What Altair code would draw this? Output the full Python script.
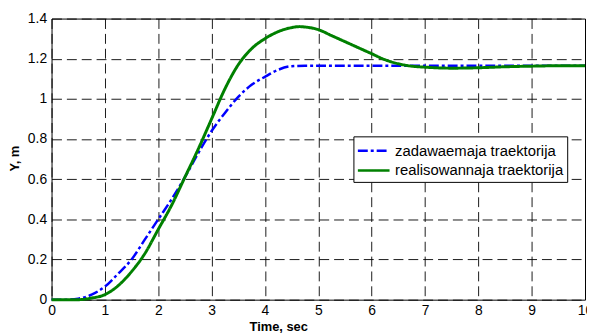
import altair as alt
import pandas as pd

series_names = ["zadawaemaja traektorija", "realisowannaja traektorija"]

t_blue = [0, 0.25, 0.5, 0.75, 1.0, 1.25, 1.5, 1.75, 2.0, 2.25, 2.5, 2.75, 3.0, 3.25, 3.5,
          3.75, 4.0, 4.25, 4.5, 4.75, 5, 6, 7, 8, 9, 10]
y_blue = [0, 0.0, 0.005, 0.025, 0.065, 0.13, 0.2, 0.3, 0.4, 0.5, 0.61, 0.73, 0.84, 0.93, 1.01,
          1.07, 1.11, 1.145, 1.163, 1.165, 1.165, 1.165, 1.165, 1.165, 1.165, 1.165]

t_green = [0, 0.5, 0.75, 1.0, 1.25, 1.5, 1.75, 2.0, 2.25, 2.5, 2.75, 3.0, 3.25, 3.5, 3.75,
           4.0, 4.25, 4.5, 4.65, 4.75, 5.0, 5.25, 5.5, 5.75, 6.0, 6.25, 6.5, 6.75, 7.0,
           7.5, 8.0, 8.5, 9.0, 9.5, 10.0]
y_green = [0, 0.0, 0.008, 0.025, 0.07, 0.14, 0.23, 0.35, 0.47, 0.61, 0.75, 0.9, 1.05, 1.17, 1.25,
           1.30, 1.335, 1.355, 1.36, 1.358, 1.345, 1.315, 1.285, 1.255, 1.225, 1.195, 1.175, 1.163, 1.158,
           1.153, 1.155, 1.16, 1.163, 1.165, 1.165]

x_ticks = [0, 1, 2, 3, 4, 5, 6, 7, 8, 9, 10]
y_ticks = [0, 0.2, 0.4, 0.6, 0.8, 1.0, 1.2, 1.4]

df_blue = pd.DataFrame({"t": t_blue, "y": y_blue, "series": series_names[0]})
df_green = pd.DataFrame({"t": t_green, "y": y_green, "series": series_names[1]})

FONT = "Liberation Sans"

x_enc = alt.X("t:Q", scale=alt.Scale(domain=[0, 10], nice=False, zero=False),
              axis=alt.Axis(values=x_ticks, title="Time, sec", format="d",
                            ticks=False, domain=False, labelPadding=4,
                            labelFontSize=14, labelFont=FONT, labelColor="black",
                            titleFont=FONT, titleFontSize=13, titleFontWeight="bold",
                            titleColor="black", titleX=229, titleY=21,
                            titleBaseline="top", titleAlign="center",
                            grid=True, gridDash=[10, 5], gridColor="black",
                            gridOpacity=0.9, labelFlush=False))
y_enc = alt.Y("y:Q", scale=alt.Scale(domain=[0, 1.4], nice=False),
              axis=alt.Axis(values=y_ticks, title="Y, m", format="~g",
                            ticks=False, domain=False, labelPadding=5,
                            labelFontSize=14, labelFont=FONT, labelColor="black",
                            titleFont=FONT, titleFontSize=13, titleFontWeight="bold",
                            titleColor="black", titleX=-37, titleY=141,
                            titleAlign="center", titleBaseline="middle", titleAngle=-90,
                            grid=True, gridDash=[10, 5], gridColor="black",
                            gridOpacity=0.9, labelFlush=False))

legend = alt.Legend(title=None, orient="none", legendX=305, legendY=119,
                    strokeColor="black", fillColor="white", padding=3,
                    symbolType="M-1,0H2.2", symbolSize=400, symbolStrokeWidth=2.5,
                    labelFont=FONT, labelFontSize=15, labelColor="black",
                    labelLimit=400,
                    labelOffset=16, rowPadding=0, cornerRadius=0)

color_enc = alt.Color("series:N", scale=alt.Scale(domain=series_names,
                                                   range=["#0000ff", "#008000"]),
                      legend=legend)
dash_enc = alt.StrokeDash("series:N", scale=alt.Scale(domain=series_names,
                                                      range=[[10, 3, 3, 3], [1, 0]]),
                          legend=legend)

blue = alt.Chart(df_blue).mark_line(strokeWidth=2.5, interpolate="monotone").encode(
    x=x_enc, y=y_enc, color=color_enc, strokeDash=dash_enc)
green = alt.Chart(df_green).mark_line(strokeWidth=3, interpolate="monotone").encode(
    x=x_enc, y=y_enc, color=color_enc, strokeDash=dash_enc)

chart = alt.layer(blue, green).properties(
    width=539, height=284,
    autosize=alt.AutoSizeParams(type="none"),
    padding={"left": 44, "top": 9, "right": 2, "bottom": 32},
    background="white",
).configure_view(stroke="black", strokeWidth=1)

chart.save("out.html", embed_options={"renderer": "svg", "actions": False})
